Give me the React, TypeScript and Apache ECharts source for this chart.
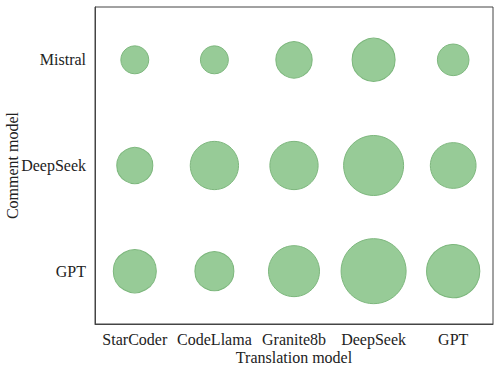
import React, { useEffect, useRef } from "react";
import * as echarts from "echarts";

const translationModels = ["StarCoder", "CodeLlama", "Granite8b", "DeepSeek", "GPT"];
const commentModels = ["GPT", "DeepSeek", "Mistral"];

// bubble values (area-like), per comment model, in translation model order
const gptValues = [185, 152, 260, 423, 284];
const deepSeekValues = [130, 233, 233, 360, 209];
const mistralValues = [78, 78, 132, 185, 100];

const rows = [gptValues, deepSeekValues, mistralValues];

export default function App() {
  const ref = useRef<HTMLDivElement>(null);
  useEffect(() => {
    if (!ref.current) return;
    const chart = echarts.init(ref.current, null, { renderer: "svg" });
    const data: number[][] = [];
    rows.forEach((vals, yi) => {
      vals.forEach((v, xi) => data.push([xi, yi, v]));
    });
    const font = "Liberation Serif";
    chart.setOption({
      animation: false,
      grid: {
        left: 95,
        right: 5,
        top: 7,
        bottom: 43,
        containLabel: false,
        outerBoundsMode: "none",
        show: true,
        borderColor: "#444",
        borderWidth: 1,
      },
      xAxis: {
        type: "category",
        data: translationModels,
        boundaryGap: true,
        name: "Translation model",
        nameLocation: "middle",
        nameGap: 25,
        nameMoveOverlap: false,
        nameTextStyle: { fontFamily: font, fontSize: 16, color: "#222" },
        axisLine: { lineStyle: { color: "#444", width: 1 } },
        axisTick: { alignWithLabel: true, interval: 0, length: 4, lineStyle: { color: "#444" } },
        axisLabel: { fontFamily: font, fontSize: 16, color: "#222", margin: 7, interval: 0 },
        splitLine: { show: false },
      },
      yAxis: {
        type: "category",
        data: commentModels,
        boundaryGap: true,
        name: "Comment model",
        nameLocation: "middle",
        nameGap: 75,
        nameMoveOverlap: false,
        nameTextStyle: { fontFamily: font, fontSize: 16, color: "#222" },
        axisLine: { lineStyle: { color: "#444", width: 1 } },
        axisTick: { alignWithLabel: true, interval: 0, length: 5, lineStyle: { color: "#444" } },
        axisLabel: { fontFamily: font, fontSize: 16, color: "#222", margin: 9, interval: 0 },
        splitLine: { show: false },
      },
      series: [
        {
          type: "scatter",
          data,
          symbolSize: (val: number[]) => Math.sqrt(val[2] * 10),
          itemStyle: {
            color: "#97cb97",
            borderColor: "#7db77d",
            borderWidth: 1,
            opacity: 1,
          },
        },
      ],
    });
    return () => chart.dispose();
  }, []);
  return <div ref={ref} style={{ width: 498, height: 367, position: "absolute", left: 0, top: 0 }} />;
}
